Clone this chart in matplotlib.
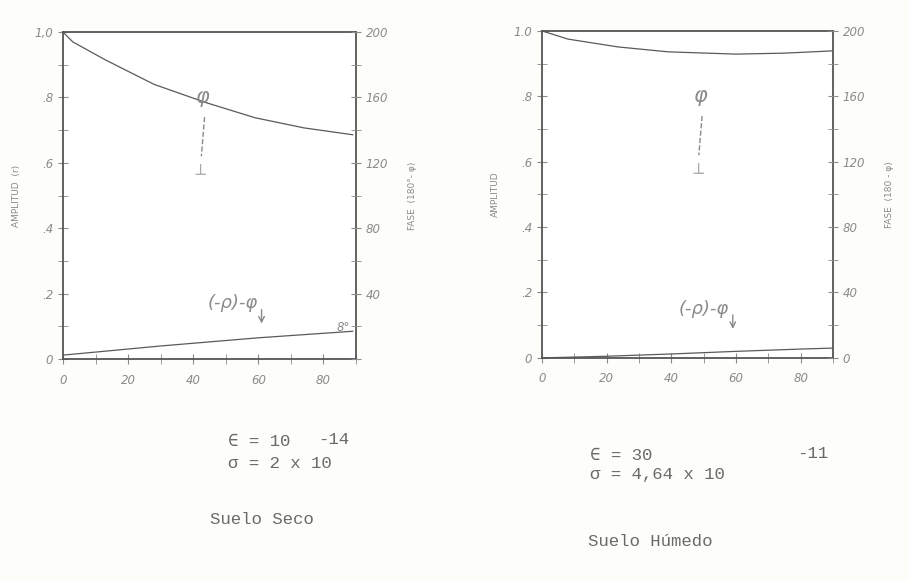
import matplotlib.pyplot as plt
import numpy as np

# Suelo Seco (dry soil)
x_seco_amp = [0, 3, 13, 28, 44, 59, 74, 89]
amp_seco = [1.0, 0.97, 0.915, 0.84, 0.784, 0.738, 0.707, 0.686]
x_seco_fase = [0, 30, 60, 89]
fase_seco = [0.012, 0.04, 0.065, 0.085]

# Suelo Humedo (wet soil)
x_hum_amp = [0, 8, 23.5, 39, 60, 75, 90]
amp_hum = [1.0, 0.975, 0.951, 0.936, 0.929, 0.932, 0.939]
x_hum_fase = [0, 20, 40, 60, 80, 90]
fase_hum = [0.0, 0.005, 0.012, 0.02, 0.027, 0.03]

x_ticks = [0, 20, 40, 60, 80]
amp_ticks = [0, 0.2, 0.4, 0.6, 0.8, 1.0]
fase_ticks = [0, 40, 80, 120, 160, 200]

ink = '#5a5a5a'
light = '#8a8a8a'

fig = plt.figure(figsize=(9.09, 5.81), dpi=100, facecolor='#fdfdf9')


def panel(rect, xa, ya, xf, yf, amp_labels, fase_labels, ylab, flab, ann_x, txt_x, txt_y):
    ax = fig.add_axes(rect)
    ax.set_facecolor('white')
    ax.plot(xa, ya, color=ink, lw=0.9)
    ax.plot(xf, yf, color=ink, lw=0.9)
    ax.set_xlim(0, 90)
    ax.set_ylim(0, 1.0)
    for s in ax.spines.values():
        s.set_color('#555555')
        s.set_linewidth(1.3)
    ax.set_xticks(x_ticks)
    ax.set_xticks(np.arange(10, 91, 10), minor=True)
    ax.set_xticklabels([str(v) for v in x_ticks])
    ax.set_yticks(amp_ticks)
    ax.set_yticks(np.arange(0.1, 1.0, 0.2), minor=True)
    ax.set_yticklabels(amp_labels)
    ax.tick_params(axis='both', which='both', direction='inout', color=light,
                   labelcolor=light, labelsize=8.5, length=7)
    ax.tick_params(axis='x', pad=7)
    for t in ax.get_xticklabels() + ax.get_yticklabels():
        t.set_fontstyle('italic')
    ax.set_ylabel(ylab, color=light, fontsize=6.5, labelpad=10)

    ax2 = ax.twinx()
    ax2.set_ylim(0, 200)
    ax2.set_yticks(fase_ticks)
    ax2.set_yticks(np.arange(20, 200, 40), minor=True)
    ax2.set_yticklabels(fase_labels)
    ax2.tick_params(axis='y', which='both', direction='inout', color=light,
                    labelcolor=light, labelsize=8.5, length=7)
    for t in ax2.get_yticklabels():
        t.set_fontstyle('italic')
    for s in ax2.spines.values():
        s.set_visible(False)
    ax2.set_ylabel(flab, color=light, fontsize=6.5, labelpad=14)

    # handwritten-style annotations
    ax.text(ann_x, 0.80, 'φ', color=light, fontsize=15, fontstyle='italic',
            ha='center', va='center')
    ax.plot([ann_x + 0.5, ann_x - 0.5], [0.74, 0.62], color=light, lw=1, ls='--')
    ax.text(ann_x - 0.5, 0.585, '⊢', color=light, fontsize=11, ha='center',
            va='center', rotation=90)
    ax.text(txt_x, txt_y, '(-ρ)-φ', color=light, fontsize=13, fontstyle='italic',
            ha='center', va='center')
    ax.annotate('', xy=(txt_x + 9, txt_y - 0.07), xytext=(txt_x + 9, txt_y - 0.01),
                arrowprops=dict(arrowstyle='->', color=light, lw=1))
    return ax


panel([0.0693, 0.382, 0.3223, 0.5628], x_seco_amp, amp_seco, x_seco_fase, fase_seco,
      ['0', '.2', '.4', '.6', '.8', '1,0'], ['', '40', '80', '120', '160', '200'],
      'AMPLITUD  (r)', 'FASE  (180°- φ)', 43, 52, 0.17)
fig.text(0.37, 0.43, '8°', color=light, fontsize=8.5, fontstyle='italic')

panel([0.5963, 0.384, 0.3201, 0.5628], x_hum_amp, amp_hum, x_hum_fase, fase_hum,
      ['0', '.2', '.4', '.6', '.8', '1.0'], ['0', '40', '80', '120', '160', '200'],
      'AMPLITUD', 'FASE  (180 - φ)', 49, 50, 0.15)

mono = dict(family=['Liberation Mono', 'DejaVu Sans Mono', 'DejaVu Sans'],
            fontsize=12.5, color='#6a6a6a')
fig.text(228 / 909, 1 - 441 / 581, '∈ = 10', va='center', **mono)
fig.text(318 / 909, 1 - 439 / 581, '-14', va='center', **mono)
fig.text(228 / 909, 1 - 463 / 581, 'σ = 2 x 10', va='center', **mono)
fig.text(210 / 909, 1 - 519 / 581, 'Suelo Seco', va='center', **mono)

fig.text(590 / 909, 1 - 455 / 581, '∈ = 30', va='center', **mono)
fig.text(828 / 909, 1 - 453 / 581, '-11', ha='right', va='center', **mono)
fig.text(590 / 909, 1 - 475 / 581, 'σ = 4,64 x 10', va='center', **mono)
fig.text(588 / 909, 1 - 541 / 581, 'Suelo Húmedo', va='center', **mono)

fig.savefig('out.png', dpi=100, facecolor=fig.get_facecolor())
